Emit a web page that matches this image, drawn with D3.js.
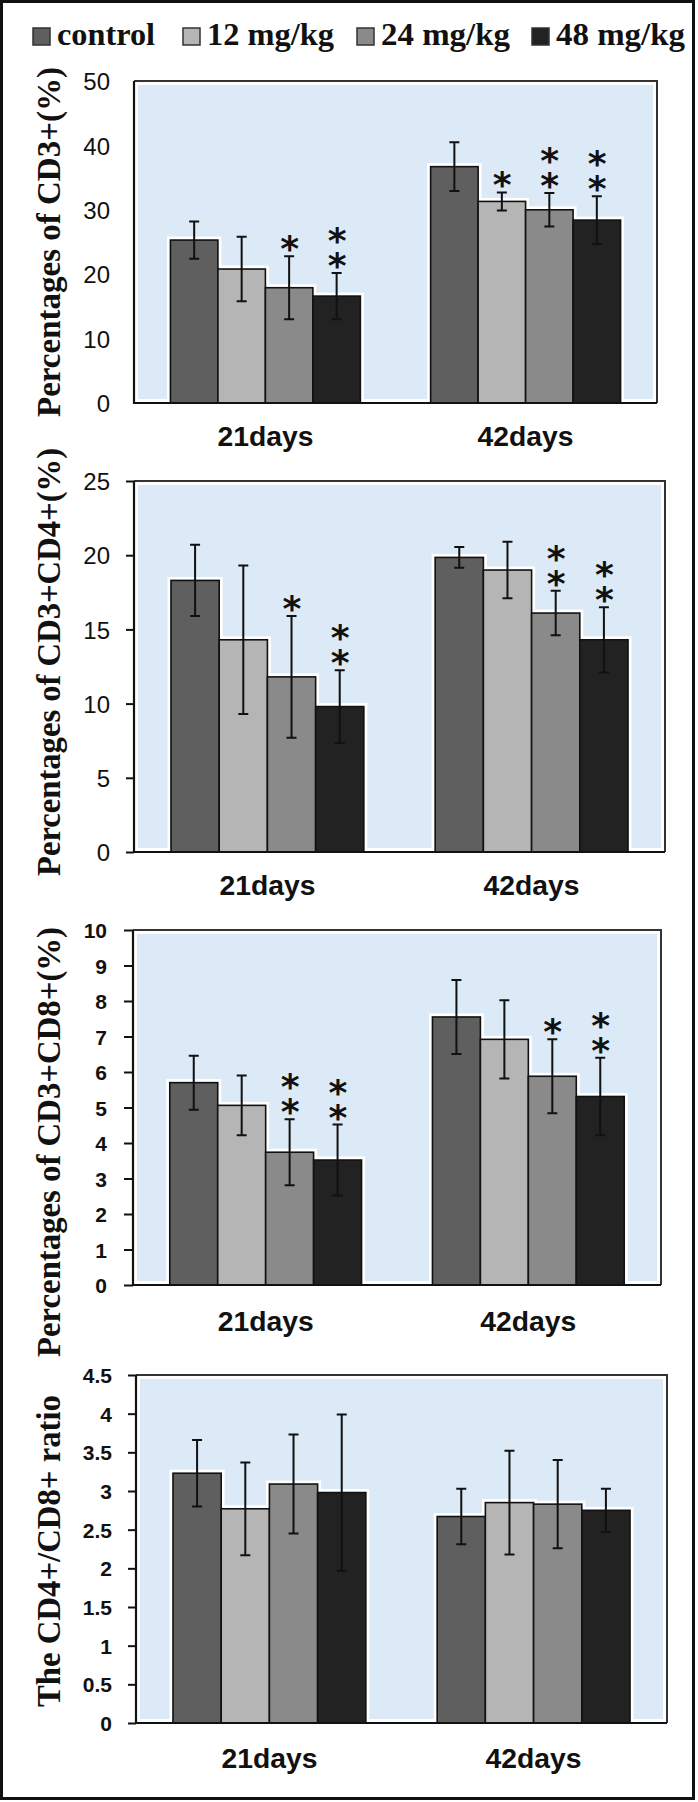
<!DOCTYPE html>
<html><head><meta charset="utf-8">
<script src="https://cdn.jsdelivr.net/npm/d3@7"></script>
<style>body{margin:0;background:#fff}svg{display:block}</style>
</head><body>
<script>
// ---- data ----
const categories = ["21days", "42days"];
const seriesNames = ["control", "12 mg/kg", "24 mg/kg", "48 mg/kg"];

const cd3Mean21 = [25.3, 20.8, 17.9, 16.6];
const cd3Err21  = [2.9, 5.0, 4.9, 3.6];
const cd3Stars21 = [0, 0, 1, 2];
const cd3Mean42 = [36.7, 31.3, 30.0, 28.4];
const cd3Err42  = [3.8, 1.4, 2.6, 3.7];
const cd3Stars42 = [0, 1, 2, 2];
const cd3Ticks = [0, 10, 20, 30, 40, 50];

const cd4Mean21 = [18.3, 14.3, 11.8, 9.8];
const cd4Err21  = [2.4, 5.0, 4.1, 2.45];
const cd4Stars21 = [0, 0, 1, 2];
const cd4Mean42 = [19.85, 19.0, 16.1, 14.3];
const cd4Err42  = [0.7, 1.9, 1.5, 2.2];
const cd4Stars42 = [0, 0, 2, 2];
const cd4Ticks = [0, 5, 10, 15, 20, 25];

const cd8Mean21 = [5.7, 5.06, 3.74, 3.52];
const cd8Err21  = [0.76, 0.84, 0.93, 1.0];
const cd8Stars21 = [0, 0, 2, 2];
const cd8Mean42 = [7.55, 6.92, 5.88, 5.31];
const cd8Err42  = [1.04, 1.1, 1.04, 1.09];
const cd8Stars42 = [0, 0, 1, 2];
const cd8Ticks = [0, 1, 2, 3, 4, 5, 6, 7, 8, 9, 10];

const ratioMean21 = [3.23, 2.77, 3.09, 2.98];
const ratioErr21  = [0.43, 0.6, 0.64, 1.01];
const ratioStars21 = [0, 0, 0, 0];
const ratioMean42 = [2.67, 2.85, 2.83, 2.75];
const ratioErr42  = [0.36, 0.67, 0.57, 0.28];
const ratioStars42 = [0, 0, 0, 0];
const ratioTicks = [0, 0.5, 1, 1.5, 2, 2.5, 3, 3.5, 4, 4.5];

const yTitles = ["Percentages of CD3+(%)", "Percentages of CD3+CD4+(%)", "Percentages of CD3+CD8+(%)", "The CD4+/CD8+ ratio"];

// ---- styles / layout ----
const barColors = ["#5f5f5f", "#b5b5b5", "#8a8a8a", "#222222"];
const W = 698, H = 1802;

const panels = [
  {title: yTitles[0], means: [cd3Mean21, cd3Mean42], errs: [cd3Err21, cd3Err42], stars: [cd3Stars21, cd3Stars42], ticks: cd3Ticks, max: 50,
   left: 134, right: 657, top: 81, bottom: 403, tickLen: 0, tickRight: 110, tickFont: 24, tickWeight: "normal", xBase: 446, titleLen: 350, titleY: 242},
  {title: yTitles[1], means: [cd4Mean21, cd4Mean42], errs: [cd4Err21, cd4Err42], stars: [cd4Stars21, cd4Stars42], ticks: cd4Ticks, max: 25,
   left: 134, right: 665, top: 481, bottom: 852, tickLen: 8, tickRight: 110, tickFont: 24, tickWeight: "normal", xBase: 895, titleLen: 428, titleY: 662},
  {title: yTitles[2], means: [cd8Mean21, cd8Mean42], errs: [cd8Err21, cd8Err42], stars: [cd8Stars21, cd8Stars42], ticks: cd8Ticks, max: 10,
   left: 133, right: 661, top: 930, bottom: 1285, tickLen: 9, tickRight: 107, tickFont: 21, tickWeight: "bold", xBase: 1331, titleLen: 430, titleY: 1142},
  {title: yTitles[3], means: [ratioMean21, ratioMean42], errs: [ratioErr21, ratioErr42], stars: [ratioStars21, ratioStars42], ticks: ratioTicks, max: 4.5,
   left: 136, right: 667, top: 1375, bottom: 1723, tickLen: 8, tickRight: 112, tickFont: 21, tickWeight: "bold", xBase: 1768, titleLen: 312, titleY: 1551}
];

const svg = d3.select("body").append("svg").attr("width", W).attr("height", H);
svg.append("rect").attr("width", W).attr("height", H).attr("fill", "#fff");

// legend
const legendX = [33, 183, 357, 532];
const legendTextW = [98, 127, 129, 129];
const lg = svg.append("g");
seriesNames.forEach((s, i) => {
  lg.append("rect").attr("x", legendX[i]).attr("y", 28).attr("width", 17).attr("height", 17)
    .attr("fill", barColors[i]).attr("stroke", "#333").attr("stroke-width", 1.5);
  lg.append("text").attr("x", legendX[i] + 24).attr("y", 45)
    .attr("font-family", "'Liberation Serif', 'Times New Roman', serif").attr("font-weight", "bold")
    .attr("font-size", 31).attr("textLength", legendTextW[i]).attr("lengthAdjust", "spacingAndGlyphs")
    .attr("fill", "#111").text(s);
});

panels.forEach(p => {
  const g = svg.append("g");
  const y = d3.scaleLinear().domain([0, p.max]).range([p.bottom, p.top]);
  const x0 = d3.scaleBand().domain(categories).range([p.left, p.right]).paddingInner(0.27).paddingOuter(0.14);
  const x1 = d3.scaleBand().domain(seriesNames).range([0, x0.bandwidth()]).padding(0);

  // plot background
  g.append("rect").attr("x", p.left + 4).attr("y", p.top + 4)
    .attr("width", p.right - p.left - 8).attr("height", p.bottom - p.top - 8).attr("fill", "#dce9f6");
  // frame top/right
  g.append("path").attr("d", `M${p.left},${p.top}H${p.right}V${p.bottom}`)
    .attr("fill", "none").attr("stroke", "#333").attr("stroke-width", 2);

  const rows = [];
  categories.forEach((c, ci) => seriesNames.forEach((s, si) => {
    rows.push({c, s, si, v: p.means[ci][si], e: p.errs[ci][si], st: p.stars[ci][si]});
  }));

  // halo
  g.selectAll(".halo").data(rows).join("rect")
    .attr("x", d => x0(d.c) + x1(d.s)).attr("y", d => y(d.v))
    .attr("width", x1.bandwidth()).attr("height", d => y(0) - y(d.v))
    .attr("fill", "none").attr("stroke", "#fff").attr("stroke-width", 7);
  g.selectAll(".bar").data(rows).join("rect")
    .attr("x", d => x0(d.c) + x1(d.s)).attr("y", d => y(d.v))
    .attr("width", x1.bandwidth()).attr("height", d => y(0) - y(d.v))
    .attr("fill", d => barColors[d.si]).attr("stroke", "#111").attr("stroke-width", 1.6);

  // error bars + significance stars (stacked vertically in one text, glyphs kept upright)
  const eg = g.append("g").attr("stroke", "#111").attr("stroke-width", 2).attr("fill", "none");
  rows.forEach(d => {
    const cx = x0(d.c) + x1(d.s) + x1.bandwidth() / 2;
    const yt = y(d.v + d.e), yb = y(d.v - d.e);
    eg.append("path").attr("d", `M${cx},${yt}V${yb}M${cx - 5},${yt}H${cx + 5}M${cx - 5},${yb}H${cx + 5}`);
    if (d.st > 0) {
      const fs = 36, sp = 25;
      const xs = d3.range(d.st).map(i => i * sp);
      const ax = cx - 0.25 * fs;
      const ay = yt - 14 - (d.st - 1) * sp + 0.53 * fs;
      g.append("text").attr("transform", `translate(${ax},${ay}) rotate(90)`)
        .attr("x", xs.join(" ")).attr("y", 0).attr("rotate", xs.map(() => -90).join(" "))
        .attr("font-family", "'DejaVu Sans', sans-serif").attr("font-weight", "bold")
        .attr("font-size", fs).attr("fill", "#111").text("*".repeat(d.st));
    }
  });

  // y axis
  const ya = g.append("g").attr("transform", `translate(${p.left},0)`)
    .call(d3.axisLeft(y).tickValues(p.ticks).tickSize(p.tickLen).tickSizeOuter(0).tickFormat(d => String(d)));
  ya.select(".domain").remove();
  ya.selectAll(".tick line").attr("stroke", "#111").attr("stroke-width", 2);
  ya.selectAll(".tick text").attr("x", p.tickRight - p.left).attr("dy", "0.36em")
    .attr("font-family", "'Liberation Sans', Arial, sans-serif").attr("font-weight", p.tickWeight)
    .attr("font-size", p.tickFont).attr("fill", "#111");
  // axis lines
  g.append("path").attr("d", `M${p.left},${p.top}V${p.bottom}H${p.right}`)
    .attr("fill", "none").attr("stroke", "#111").attr("stroke-width", 2.2);

  // x axis labels
  const xa = g.append("g").attr("transform", `translate(0,${p.bottom})`)
    .call(d3.axisBottom(x0).tickSize(0));
  xa.select(".domain").remove();
  xa.selectAll(".tick text").attr("y", p.xBase - p.bottom).attr("dy", 0)
    .attr("font-family", "'Liberation Sans', Arial, sans-serif").attr("font-weight", "bold")
    .attr("font-size", 27).attr("textLength", 96).attr("lengthAdjust", "spacingAndGlyphs").attr("fill", "#111");

  // y title
  svg.append("text").attr("transform", `translate(60,${p.titleY}) rotate(-90)`)
    .attr("text-anchor", "middle")
    .attr("font-family", "'Liberation Serif', 'Times New Roman', serif").attr("font-weight", "bold")
    .attr("font-size", 33).attr("textLength", p.titleLen).attr("lengthAdjust", "spacingAndGlyphs")
    .attr("fill", "#111").text(p.title);
});

// outer frame
svg.append("rect").attr("x", 1.5).attr("y", 1.5).attr("width", 692).attr("height", 1797)
  .attr("fill", "none").attr("stroke", "#111").attr("stroke-width", 3);
</script>
</body></html>
